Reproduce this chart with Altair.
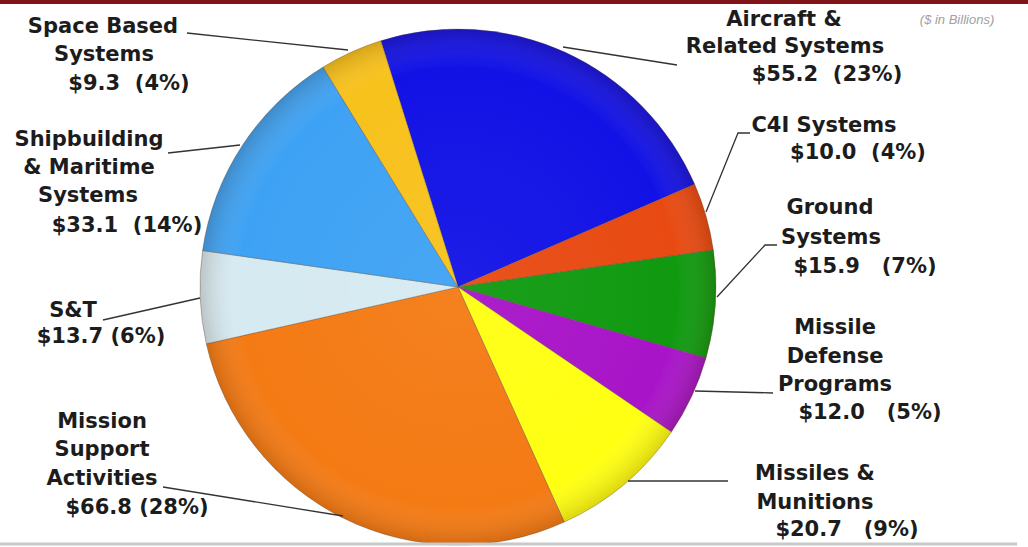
import altair as alt
import pandas as pd
import math

# ---- data ----
categories = ["Aircraft & Related Systems", "C4I Systems", "Ground Systems",
              "Missile Defense Programs", "Missiles & Munitions",
              "Mission Support Activities", "S&T",
              "Shipbuilding & Maritime Systems", "Space Based Systems"]
values = [55.2, 10.0, 15.9, 12.0, 20.7, 66.8, 13.7, 33.1, 9.3]
percents = [23, 4, 7, 5, 9, 28, 6, 14, 4]
colors = ["#1212E6", "#E84A12", "#109A10", "#A814C8", "#FFFF12",
          "#F47A14", "#D6EAF2", "#3EA2F4", "#F8C21C"]

# label text lines per category (name lines, then value line)
name_lines = [["Aircraft &", "Related Systems"],
              ["C4I Systems"],
              ["Ground", "Systems"],
              ["Missile", "Defense", "Programs"],
              ["Missiles &", "Munitions"],
              ["Mission", "Support", "Activities"],
              ["S&T"],
              ["Shipbuilding", "& Maritime", "Systems"],
              ["Space Based", "Systems"]]
NB = "\u00a0"
value_gap = [2, 2, 3, 3, 3, 1, 1, 2, 2]

# ---- layout (pixel positions of each text line: x centre, y middle) ----
line_pos = [[(784, 20), (785, 47), (827, 75)],
            [(824, 126), (858, 153)],
            [(830, 208), (831, 238), (865, 267)],
            [(835, 328), (835, 357), (835, 385), (870, 413)],
            [(815, 474), (815, 503), (847, 530)],
            [(102, 422), (102, 450), (102, 479), (137, 508)],
            [(73, 311), (101, 337)],
            [(89, 140), (89, 168), (88, 196), (127, 226)],
            [(103, 27), (104, 55), (129, 84)]]
leaders = [[(563, 47), (677, 65)],
           [(706, 212), (738, 133), (750, 133)],
           [(717, 297), (765, 245), (777, 245)],
           [(695, 391), (773, 393)],
           [(628, 481), (728, 481)],
           [(343, 516), (163, 487)],
           [(200, 298), (103, 320)],
           [(240, 145), (168, 153)],
           [(348, 50), (187, 33)]]
CX, CY, R = 458, 287, 258
start = math.radians(-17.4)

pie_df = pd.DataFrame({"cat": categories, "value": values,
                       "idx": list(range(len(categories)))})

text_rows = []
for i, cat in enumerate(categories):
    lines = list(name_lines[i]) + [
        f"${values[i]:.1f}" + NB * value_gap[i] + f"({percents[i]}%)"]
    for line, (x, y) in zip(lines, line_pos[i]):
        text_rows.append({"t": line, "x": x, "y": y})
text_df = pd.DataFrame(text_rows)

lead_rows = []
for i, pts in enumerate(leaders):
    for j, (x, y) in enumerate(pts):
        lead_rows.append({"id": i, "seq": j, "x": x, "y": y})
lead_df = pd.DataFrame(lead_rows)

pie = alt.Chart(pie_df).mark_arc(
    radius=R, stroke="#5a4a3a", strokeWidth=0.6, strokeOpacity=0.6
).encode(
    theta=alt.Theta("value:Q", stack=True,
                    scale=alt.Scale(range=[start, start + 2 * math.pi])),
    order=alt.Order("idx:Q"),
    color=alt.Color("cat:N", scale=alt.Scale(domain=categories, range=colors),
                    legend=None),
    x=alt.value(CX), y=alt.value(CY),
)

shade = alt.Chart(pd.DataFrame({"a": [1]})).mark_arc(
    radius=R,
    fill=alt.Gradient(gradient="radial", x1=0.5, y1=0.5, x2=0.5, y2=0.5,
                      r1=0, r2=0.5,
                      stops=[alt.GradientStop(offset=0, color="rgba(255,255,255,0.05)"),
                             alt.GradientStop(offset=0.85, color="rgba(255,255,255,0)"),
                             alt.GradientStop(offset=1, color="rgba(60,30,0,0.18)")]),
).encode(theta=alt.value(2 * math.pi), x=alt.value(CX), y=alt.value(CY))

lines = alt.Chart(lead_df).mark_line(color="#333333", strokeWidth=1.3).encode(
    x=alt.X("x:Q", scale=None), y=alt.Y("y:Q", scale=None),
    detail="id:N", order="seq:Q")

texts = alt.Chart(text_df).mark_text(
    font="DejaVu Sans", fontWeight="bold", fontSize=21, color="#1c1c1c",
    align="center", baseline="middle"
).encode(x=alt.X("x:Q", scale=None), y=alt.Y("y:Q", scale=None), text="t:N")

note = alt.Chart(pd.DataFrame({"t": ["($ in Billions)"]})).mark_text(
    font="Liberation Sans", fontStyle="italic", fontSize=13, color="#a0a0a0",
    align="center", baseline="middle"
).encode(x=alt.value(957), y=alt.value(20), text="t:N")

dummy = pd.DataFrame({"a": [0]})
top_rule = alt.Chart(dummy).mark_rule(color="#801418", strokeWidth=4).encode(
    x=alt.value(0), x2=alt.value(1028), y=alt.value(2))
bottom_rule = alt.Chart(dummy).mark_rule(color="#c8c8c8", strokeWidth=3).encode(
    x=alt.value(0), x2=alt.value(1017), y=alt.value(544))

chart = alt.layer(pie, shade, lines, texts, note, top_rule, bottom_rule).properties(
    width=1028, height=547, padding=0, autosize="none"
).configure_view(strokeWidth=0)

chart.save("out.html", embed_options={"renderer": "svg", "actions": False})
